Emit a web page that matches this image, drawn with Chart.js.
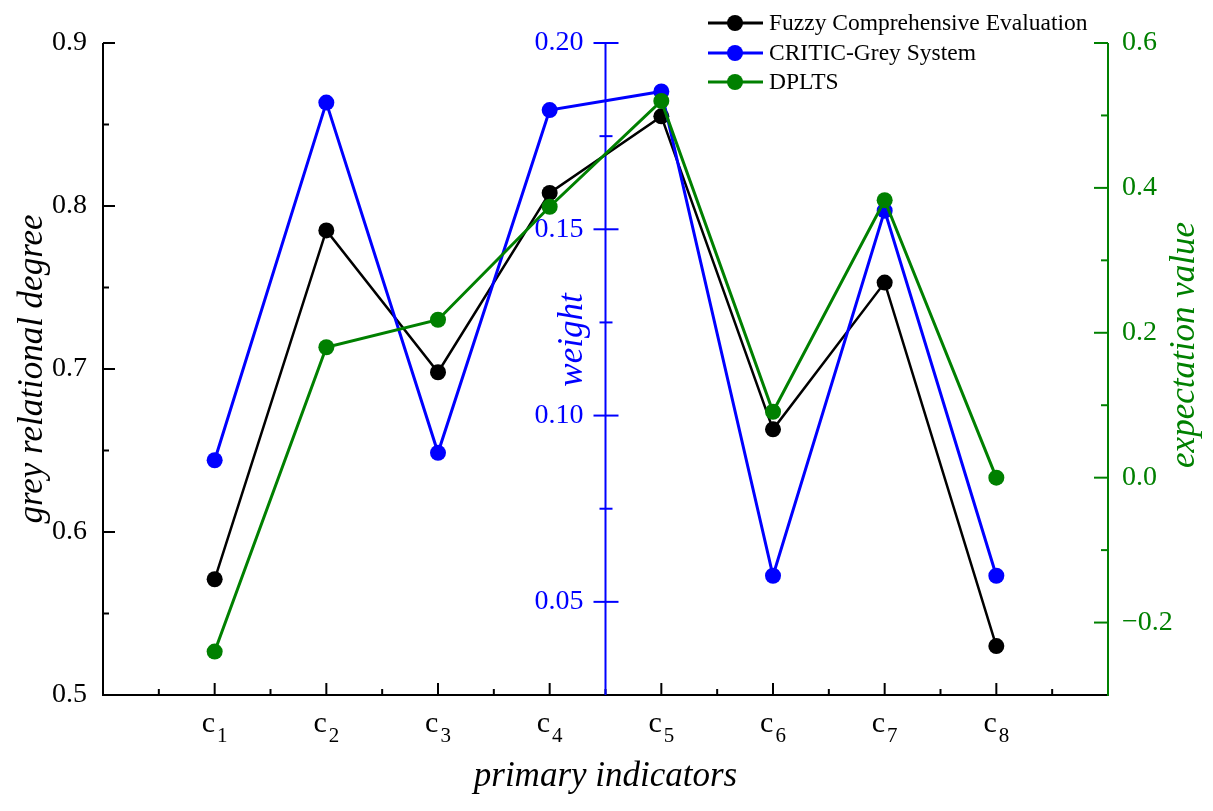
<!DOCTYPE html>
<html>
<head>
<meta charset="utf-8">
<title>primary indicators</title>
<script src="https://cdn.jsdelivr.net/npm/chart.js@4.4.0/dist/chart.umd.min.js"></script>
<style>
  html, body { margin: 0; padding: 0; background: #fff; }
</style>
</head>
<body>
<canvas id="chart" width="1213" height="811"></canvas>
<script>
// data
const categories = ["1", "2", "3", "4", "5", "6", "7", "8"];
const fuzzyValues = [0.571, 0.785, 0.698, 0.808, 0.855, 0.663, 0.753, 0.530];
const criticValues = [0.088, 0.184, 0.090, 0.182, 0.187, 0.057, 0.155, 0.057];
const dpltsValues = [-0.240, 0.180, 0.218, 0.374, 0.520, 0.091, 0.383, 0.000];

// tick labels
const greyTicks = [0.5, 0.6, 0.7, 0.8, 0.9];
const weightTicks = [0.05, 0.10, 0.15, 0.20];
const expTicks = [-0.2, 0.0, 0.2, 0.4, 0.6];

const BLACK = "#000000";
const BLUE = "#0000ff";
const GREEN = "#008000";
const SERIF = "'Liberation Serif', 'Times New Roman', serif";

function toPoints(values) {
  return values.map((v, i) => ({ x: i + 1, y: v }));
}

function midpoints(ticks) {
  const out = [];
  for (let i = 0; i < ticks.length - 1; i++) {
    out.push((ticks[i] + ticks[i + 1]) / 2);
  }
  return out;
}

function drawLine(ctx, x1, y1, x2, y2, color, width) {
  ctx.beginPath();
  ctx.strokeStyle = color;
  ctx.lineWidth = width;
  ctx.moveTo(x1, y1);
  ctx.lineTo(x2, y2);
  ctx.stroke();
}

function rotatedText(ctx, text, x, y, color) {
  ctx.save();
  ctx.translate(x, y);
  ctx.rotate(-Math.PI / 2);
  ctx.fillStyle = color;
  ctx.textAlign = "center";
  ctx.textBaseline = "middle";
  ctx.fillText(text, 0, 0);
  ctx.restore();
}

const axesPlugin = {
  id: "axesPlugin",
  beforeDatasetsDraw(chart) {
    const ctx = chart.ctx;
    const { left, right, top, bottom } = chart.chartArea;
    const xs = chart.scales.x;
    const yg = chart.scales.y;
    const yw = chart.scales.yWeight;
    const ye = chart.scales.yExp;
    const wx = xs.getPixelForValue(4.5);
    ctx.save();

    // x axis
    drawLine(ctx, left, bottom, right, bottom, BLACK, 2);
    categories.forEach((c, i) => {
      const px = xs.getPixelForValue(i + 1);
      drawLine(ctx, px, bottom, px, bottom - 12, BLACK, 2);
    });
    for (let i = 0; i <= categories.length; i++) {
      const px = xs.getPixelForValue(i + 0.5);
      drawLine(ctx, px, bottom, px, bottom - 6, BLACK, 2);
    }

    // left axis
    drawLine(ctx, left, top, left, bottom + 1, BLACK, 2);
    greyTicks.forEach(v => {
      const py = yg.getPixelForValue(v);
      drawLine(ctx, left, py, left + 12, py, BLACK, 2);
    });
    midpoints(greyTicks).forEach(v => {
      const py = yg.getPixelForValue(v);
      drawLine(ctx, left, py, left + 6, py, BLACK, 2);
    });

    // weight axis in the middle
    drawLine(ctx, wx, top, wx, bottom, BLUE, 2);
    weightTicks.forEach(v => {
      const py = yw.getPixelForValue(v);
      drawLine(ctx, wx - 12, py, wx + 13, py, BLUE, 2);
    });
    midpoints(weightTicks).forEach(v => {
      const py = yw.getPixelForValue(v);
      drawLine(ctx, wx - 6, py, wx + 7, py, BLUE, 2);
    });

    // right axis
    drawLine(ctx, right, top, right, bottom + 1, GREEN, 2);
    expTicks.forEach(v => {
      const py = ye.getPixelForValue(v);
      drawLine(ctx, right, py, right - 14, py, GREEN, 2);
    });
    midpoints(expTicks).forEach(v => {
      const py = ye.getPixelForValue(v);
      drawLine(ctx, right, py, right - 7, py, GREEN, 2);
    });

    ctx.restore();
  },
  afterDraw(chart) {
    const ctx = chart.ctx;
    const { top, bottom } = chart.chartArea;
    const xs = chart.scales.x;
    const yw = chart.scales.yWeight;
    const wx = xs.getPixelForValue(4.5);
    ctx.save();

    // weight tick labels
    ctx.font = "28px " + SERIF;
    ctx.fillStyle = BLUE;
    ctx.textAlign = "right";
    ctx.textBaseline = "middle";
    weightTicks.forEach(v => {
      ctx.fillText(v.toFixed(2), wx - 22, yw.getPixelForValue(v));
    });

    // category labels c with subscript
    categories.forEach((c, i) => {
      const px = xs.getPixelForValue(i + 1);
      ctx.font = "30px " + SERIF;
      const wc = ctx.measureText("c").width;
      ctx.font = "21px " + SERIF;
      const ws = ctx.measureText(c).width;
      const x0 = px - (wc + 2 + ws) / 2;
      ctx.fillStyle = BLACK;
      ctx.textAlign = "left";
      ctx.textBaseline = "alphabetic";
      ctx.font = "30px " + SERIF;
      ctx.fillText("c", x0, 732);
      ctx.font = "21px " + SERIF;
      ctx.fillText(c, x0 + wc + 2, 742);
    });

    // axis titles
    ctx.font = "italic 35px " + SERIF;
    rotatedText(ctx, "grey relational degree", 33, (top + bottom) / 2, BLACK);
    rotatedText(ctx, "weight", 573, 340, BLUE);
    rotatedText(ctx, "expectation value", 1185, 345, GREEN);
    ctx.fillStyle = BLACK;
    ctx.textAlign = "center";
    ctx.textBaseline = "middle";
    ctx.fillText("primary indicators", xs.getPixelForValue(4.5), 777);

    // legend
    const rows = [
      { label: "Fuzzy Comprehensive Evaluation", color: BLACK, y: 23 },
      { label: "CRITIC-Grey System", color: BLUE, y: 53 },
      { label: "DPLTS", color: GREEN, y: 82 }
    ];
    rows.forEach(r => {
      drawLine(ctx, 708, r.y, 763, r.y, r.color, 3);
      ctx.beginPath();
      ctx.fillStyle = r.color;
      ctx.arc(735, r.y, 8, 0, Math.PI * 2);
      ctx.fill();
      ctx.fillStyle = BLACK;
      ctx.font = "23.5px " + SERIF;
      ctx.textAlign = "left";
      ctx.textBaseline = "middle";
      ctx.fillText(r.label, 769, r.y + 1);
    });

    ctx.restore();
  }
};

const hiddenGrid = { display: false, drawTicks: false, tickLength: 0 };

new Chart(document.getElementById("chart"), {
  type: "line",
  data: {
    datasets: [
      {
        label: "Fuzzy Comprehensive Evaluation",
        data: toPoints(fuzzyValues),
        yAxisID: "y",
        borderColor: BLACK,
        backgroundColor: BLACK,
        borderWidth: 2.5,
        pointRadius: 8,
        pointBorderWidth: 0,
        order: 3
      },
      {
        label: "CRITIC-Grey System",
        data: toPoints(criticValues),
        yAxisID: "yWeight",
        borderColor: BLUE,
        backgroundColor: BLUE,
        borderWidth: 3,
        pointRadius: 8,
        pointBorderWidth: 0,
        order: 2
      },
      {
        label: "DPLTS",
        data: toPoints(dpltsValues),
        yAxisID: "yExp",
        borderColor: GREEN,
        backgroundColor: GREEN,
        borderWidth: 3,
        pointRadius: 8,
        pointBorderWidth: 0,
        order: 1
      }
    ]
  },
  options: {
    responsive: false,
    animation: false,
    devicePixelRatio: 1,
    layout: { padding: { top: 43, left: 0, right: 0, bottom: 0 } },
    plugins: {
      legend: { display: false },
      tooltip: { enabled: false }
    },
    elements: { line: { tension: 0 } },
    scales: {
      x: {
        type: "linear",
        min: 0,
        max: 9,
        grid: hiddenGrid,
        border: { display: false },
        ticks: { display: false },
        afterFit(scale) { scale.height = 116; }
      },
      y: {
        position: "left",
        min: 0.5,
        max: 0.9,
        grid: hiddenGrid,
        border: { display: false },
        afterBuildTicks(scale) { scale.ticks = greyTicks.map(v => ({ value: v })); },
        ticks: {
          padding: 16,
          color: BLACK,
          font: { family: SERIF, size: 28 },
          callback: v => v.toFixed(1)
        },
        afterFit(scale) { scale.width = 103; }
      },
      yWeight: {
        position: "left",
        display: false,
        min: 0.025,
        max: 0.2
      },
      yExp: {
        position: "right",
        min: -0.3,
        max: 0.6,
        grid: hiddenGrid,
        border: { display: false },
        afterBuildTicks(scale) { scale.ticks = expTicks.map(v => ({ value: v })); },
        ticks: {
          padding: 14,
          color: GREEN,
          font: { family: SERIF, size: 28 },
          callback: v => (v < 0 ? "\u2212" + Math.abs(v).toFixed(1) : v.toFixed(1))
        },
        afterFit(scale) { scale.width = 105; }
      }
    }
  },
  plugins: [axesPlugin]
});
</script>
</body>
</html>
